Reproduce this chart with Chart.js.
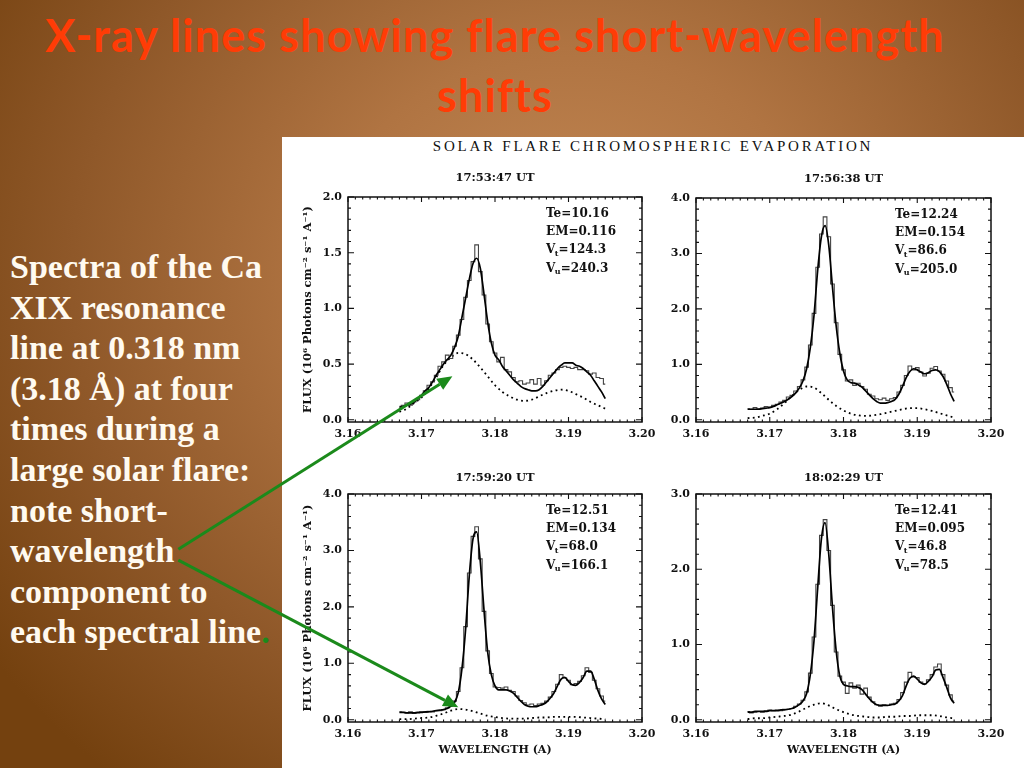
<!DOCTYPE html>
<html><head><meta charset="utf-8">
<script src="https://cdn.jsdelivr.net/npm/chart.js@4.4.1/dist/chart.umd.min.js"></script>
<style>
html,body{margin:0;padding:0;width:1024px;height:768px;overflow:hidden;}
body{position:relative;background:radial-gradient(ellipse 70% 85% at 56% 36%, #c58a56 0%, #b07442 35%, #8f5829 70%, #74410f 100%);}
#title{position:absolute;left:0;top:5px;width:990px;text-align:center;font-family:Lato,sans-serif;font-weight:bold;font-size:45px;letter-spacing:1.1px;line-height:60px;color:#ff3c06;}
#panel{position:absolute;left:282px;top:137px;width:742px;height:631px;background:#fff;}
#heading{position:absolute;left:282px;width:742px;top:138px;text-align:center;font-family:'Liberation Serif',serif;font-size:15px;letter-spacing:2.75px;color:#111;}
#side{position:absolute;left:10px;top:247px;font-family:'Liberation Serif',serif;font-weight:bold;font-size:34px;line-height:40.6px;color:#fffaf0;white-space:nowrap;}
#side .g{color:#1b8a1b;}
canvas.c{position:absolute;}
#overlay{position:absolute;left:0;top:0;pointer-events:none;z-index:10;}
</style>
</head>
<body>
<div id="title">X-ray lines showing flare short-wavelength<br>shifts</div>
<div id="side">Spectra of the Ca<br>XIX resonance<br>line at 0.318 nm<br>(3.18 Å) at four<br>times during a<br>large solar flare:<br>note short-<br><span id="wl">wavelength</span><br>component to<br>each spectral line<span class="g">.</span></div>
<div id="panel"></div>
<div id="heading">SOLAR FLARE CHROMOSPHERIC EVAPORATION</div>
<canvas id="overlay" width="1024" height="768"></canvas>
<script>
// ---------- data ----------
const wavelengthFine = [3.1670,3.1675,3.1680,3.1685,3.1690,3.1695,3.1700,3.1705,3.1710,3.1715,
3.1720,3.1725,3.1730,3.1735,3.1740,3.1745,3.1750,3.1755,3.1760,3.1765,
3.1770,3.1775,3.1780,3.1785,3.1790,3.1795,3.1800,3.1805,3.1810,3.1815,
3.1820,3.1825,3.1830,3.1835,3.1840,3.1845,3.1850,3.1855,3.1860,3.1865,
3.1870,3.1875,3.1880,3.1885,3.1890,3.1895,3.1900,3.1905,3.1910,3.1915,
3.1920,3.1925,3.1930,3.1935,3.1940,3.1945,3.1950];
const wavelengthCoarse = [3.167,3.168,3.169,3.170,3.171,3.172,3.173,3.174,3.175,3.176,
3.177,3.178,3.179,3.180,3.181,3.182,3.183,3.184,3.185,3.186,
3.187,3.188,3.189,3.190,3.191,3.192,3.193,3.194,3.195];

const xTickMin = 3.16, xTickMax = 3.20, xTickStep = 0.01;

const panelTimes = ['17:53:47 UT','17:56:38 UT','17:59:20 UT','18:02:29 UT'];
const panelTe = ['10.16','12.24','12.51','12.41'];
const panelEM = ['0.116','0.154','0.134','0.095'];
const panelVt = ['124.3','86.6','68.0','46.8'];
const panelVu = ['240.3','205.0','166.1','78.5'];
const yMaxima = [2.0, 4.0, 4.0, 3.0];
const yMinima = [-0.02, -0.04, -0.04, -0.03];
const yStep = [0.5, 1.0, 1.0, 1.0];

const observed1 = [0.12,0.13,0.15,0.13,0.16,0.18,0.22,0.26,0.31,0.34,
0.40,0.48,0.52,0.58,0.55,0.66,0.76,0.90,1.10,1.25,
1.42,1.57,1.33,1.12,0.86,0.70,0.60,0.52,0.56,0.45,
0.43,0.38,0.34,0.35,0.32,0.33,0.36,0.32,0.37,0.31,
0.35,0.40,0.42,0.45,0.47,0.48,0.47,0.46,0.47,0.45,
0.45,0.44,0.41,0.42,0.38,0.37,0.32];
const fit1 = [0.11,0.12,0.13,0.14,0.16,0.19,0.22,0.26,0.29,0.34,
0.40,0.45,0.50,0.54,0.58,0.65,0.75,0.92,1.09,1.26,
1.40,1.45,1.36,1.13,0.88,0.69,0.58,0.54,0.48,0.44,
0.40,0.36,0.33,0.30,0.28,0.27,0.26,0.26,0.27,0.30,
0.34,0.38,0.42,0.46,0.49,0.51,0.51,0.51,0.49,0.48,
0.46,0.43,0.40,0.35,0.30,0.25,0.19];
const blue1 = [0.07,0.10,0.15,0.20,0.28,0.38,0.49,0.56,0.60,0.59,
0.54,0.47,0.39,0.31,0.25,0.21,0.18,0.17,0.18,0.21,
0.24,0.26,0.27,0.26,0.23,0.20,0.16,0.13,0.10];

const observed2 = [0.20,0.19,0.22,0.20,0.21,0.24,0.23,0.26,0.28,0.32,
0.35,0.41,0.44,0.52,0.60,0.72,0.95,1.35,1.92,2.75,
3.35,3.66,3.30,2.45,1.75,1.18,0.90,0.70,0.72,0.62,
0.66,0.60,0.55,0.46,0.43,0.38,0.36,0.39,0.35,0.38,
0.40,0.50,0.62,0.80,0.97,0.90,0.94,0.86,0.79,0.84,
0.93,0.96,0.88,0.82,0.70,0.58,0.50];
const fit2 = [0.19,0.19,0.19,0.19,0.20,0.21,0.22,0.24,0.27,0.30,
0.33,0.37,0.42,0.48,0.57,0.70,0.92,1.30,1.88,2.70,
3.30,3.50,3.15,2.40,1.70,1.20,0.88,0.72,0.67,0.66,
0.63,0.59,0.52,0.45,0.38,0.33,0.30,0.30,0.31,0.33,
0.37,0.46,0.60,0.76,0.87,0.92,0.90,0.86,0.83,0.85,
0.89,0.90,0.87,0.78,0.64,0.47,0.33];
const blue2 = [0.03,0.04,0.07,0.11,0.19,0.30,0.43,0.54,0.60,0.58,
0.48,0.36,0.25,0.17,0.11,0.08,0.07,0.08,0.10,0.13,
0.16,0.19,0.21,0.21,0.19,0.16,0.12,0.08,0.04];

const observed3 = [0.14,0.13,0.12,0.14,0.11,0.12,0.14,0.13,0.15,0.14,
0.16,0.16,0.18,0.21,0.24,0.33,0.50,0.92,1.65,2.60,
3.25,3.42,2.85,1.92,1.22,0.82,0.58,0.57,0.56,0.58,
0.52,0.50,0.42,0.34,0.30,0.26,0.28,0.25,0.28,0.29,
0.33,0.40,0.50,0.63,0.80,0.74,0.70,0.62,0.64,0.68,
0.78,0.92,0.84,0.70,0.55,0.42,0.33];
const fit3 = [0.13,0.13,0.12,0.12,0.12,0.13,0.13,0.14,0.14,0.15,
0.16,0.17,0.18,0.20,0.24,0.31,0.48,0.90,1.60,2.55,
3.20,3.33,2.80,1.95,1.20,0.80,0.60,0.53,0.53,0.53,
0.51,0.47,0.40,0.33,0.27,0.24,0.23,0.23,0.25,0.27,
0.31,0.38,0.47,0.60,0.72,0.75,0.68,0.62,0.61,0.66,
0.75,0.86,0.86,0.72,0.52,0.37,0.27];
const blue3 = [0.01,0.01,0.02,0.03,0.04,0.07,0.11,0.16,0.19,0.18,
0.15,0.11,0.07,0.05,0.03,0.02,0.02,0.02,0.03,0.04,
0.04,0.05,0.05,0.05,0.05,0.04,0.03,0.02,0.01];

const observed4 = [0.11,0.09,0.10,0.11,0.10,0.12,0.13,0.12,0.13,0.12,
0.14,0.14,0.15,0.18,0.21,0.26,0.37,0.62,1.10,1.80,
2.45,2.66,2.25,1.52,0.90,0.58,0.50,0.35,0.49,0.42,
0.46,0.34,0.42,0.30,0.24,0.20,0.18,0.20,0.19,0.21,
0.22,0.27,0.36,0.50,0.63,0.57,0.56,0.50,0.48,0.53,
0.60,0.70,0.74,0.60,0.46,0.33,0.25];
const fit4 = [0.10,0.10,0.11,0.11,0.11,0.11,0.12,0.12,0.12,0.13,
0.13,0.14,0.15,0.17,0.20,0.25,0.35,0.60,1.05,1.75,
2.40,2.62,2.20,1.50,0.92,0.58,0.47,0.45,0.44,0.44,
0.43,0.40,0.34,0.28,0.23,0.20,0.19,0.19,0.19,0.20,
0.21,0.25,0.32,0.45,0.55,0.58,0.54,0.49,0.47,0.51,
0.57,0.66,0.67,0.56,0.43,0.29,0.22];
const blue4 = [0.01,0.02,0.02,0.03,0.04,0.05,0.07,0.11,0.16,0.20,
0.22,0.19,0.14,0.10,0.07,0.05,0.04,0.03,0.03,0.04,
0.04,0.05,0.05,0.06,0.06,0.06,0.05,0.03,0.02];

// arrow targets (data coordinates inside panel 1 and panel 3)
const arrowTargets = [{panel:0, x:3.1742, y:0.39}, {panel:2, x:3.1750, y:0.22}];

// ---------- layout ----------
const panelAreas = [
  {left:348, top:197, right:642, bottom:422},
  {left:696, top:198, right:991, bottom:422},
  {left:348, top:494, right:642, bottom:722},
  {left:696, top:494, right:991, bottom:722}
];
const timeOffset = [18.5, 18.5, 16, 16];
const FONT = '"DejaVu Serif", serif';
const INK = '#111';

const framePlugin = {
  id: 'frame',
  afterDatasetsDraw(chart, args, opts) {
    const {ctx, chartArea: {left, right, top, bottom}, scales: {x, y}} = chart;
    ctx.save();
    ctx.strokeStyle = INK;
    ctx.lineWidth = 1.5;
    ctx.strokeRect(left, top, right - left, bottom - top);
    ctx.lineWidth = 1.1;
    ctx.beginPath();
    const xt = x.ticks.map(t => t.value);
    for (let j = 0; j < xt.length; j++) {
      const px = x.getPixelForValue(xt[j]);
      ctx.moveTo(px, bottom); ctx.lineTo(px, bottom - 5);
      ctx.moveTo(px, top); ctx.lineTo(px, top + 5);
      if (j < xt.length - 1) {
        const st = (xt[j + 1] - xt[j]) / opts.xMinor;
        for (let m = 1; m < opts.xMinor; m++) {
          const q = x.getPixelForValue(xt[j] + m * st);
          ctx.moveTo(q, bottom); ctx.lineTo(q, bottom - 2.5);
          ctx.moveTo(q, top); ctx.lineTo(q, top + 2.5);
        }
      }
    }
    const yt = y.ticks.map(t => t.value);
    for (let j = 0; j < yt.length; j++) {
      const py = y.getPixelForValue(yt[j]);
      ctx.moveTo(left, py); ctx.lineTo(left + 6, py);
      ctx.moveTo(right, py); ctx.lineTo(right - 6, py);
      if (j < yt.length - 1) {
        const st = (yt[j + 1] - yt[j]) / opts.yMinor;
        for (let m = 1; m < opts.yMinor; m++) {
          const q = y.getPixelForValue(yt[j] + m * st);
          ctx.moveTo(left, q); ctx.lineTo(left + 3, q);
          ctx.moveTo(right, q); ctx.lineTo(right - 3, q);
        }
      }
    }
    ctx.stroke();
    ctx.restore();
  }
};

const annotPlugin = {
  id: 'annot',
  afterDraw(chart, args, opts) {
    const {ctx, chartArea: {left, right, top}} = chart;
    ctx.save();
    ctx.fillStyle = INK;
    ctx.textBaseline = 'middle';
    ctx.textAlign = 'center';
    ctx.font = 'bold 11.5px ' + FONT;
    ctx.fillText(opts.time, (left + right) / 2, top - opts.timeOffset);
    ctx.textAlign = 'left';
    const x0 = right - 96;
    const big = 'bold 12px ' + FONT, small = 'bold 8px ' + FONT;
    const y0 = top + 16.5, dy = 18.3;
    ctx.font = big;
    ctx.fillText('Te=' + opts.te, x0, y0);
    ctx.fillText('EM=' + opts.em, x0, y0 + dy);
    const sub = (sym, s, val, yy) => {
      ctx.font = big;
      ctx.fillText(sym, x0, yy);
      const w1 = ctx.measureText(sym).width;
      ctx.font = small;
      ctx.fillText(s, x0 + w1 - 0.5, yy + 3.5);
      const w2 = ctx.measureText(s).width;
      ctx.font = big;
      ctx.fillText('=' + val, x0 + w1 + w2 - 0.5, yy);
    };
    sub('V', 't', opts.vt, y0 + 2 * dy);
    sub('V', 'u', opts.vu, y0 + 3 * dy);
    ctx.restore();
  }
};

const charts = [];
function makePanel(i, obs, fit, blue, showYTitle, showXTitle) {
  const a = panelAreas[i];
  const wy = showYTitle ? 66 : 40;
  const hx = showXTitle ? 40 : 30;
  const padTop = 45, padRight = 22;
  const cx = a.left - wy, cy = a.top - padTop;
  const cw = a.right - cx + padRight, ch = a.bottom - cy + hx;
  const cv = document.createElement('canvas');
  cv.className = 'c';
  cv.width = cw; cv.height = ch;
  cv.style.left = cx + 'px'; cv.style.top = cy + 'px';
  cv.style.width = cw + 'px'; cv.style.height = ch + 'px';
  document.body.insertBefore(cv, document.getElementById('overlay'));
  const tickFont = {family: FONT, weight: 'bold', size: 11};
  const chart = new Chart(cv, {
    type: 'line',
    data: {
      datasets: [
        {data: wavelengthFine.map((x, k) => ({x, y: fit[k]})), borderColor: '#000', borderWidth: 1.7,
         cubicInterpolationMode: 'monotone', pointRadius: 0, fill: false, order: 0},
        {data: wavelengthFine.map((x, k) => ({x, y: obs[k]})), borderColor: '#444', borderWidth: 1.1,
         stepped: 'middle', pointRadius: 0, fill: false, order: 1},
        {data: wavelengthCoarse.map((x, k) => ({x, y: blue[k]})), borderColor: '#000', borderWidth: 1.8,
         borderDash: [1.8, 3.4], cubicInterpolationMode: 'monotone', pointRadius: 0, fill: false, order: 2}
      ]
    },
    options: {
      responsive: false,
      animation: false,
      layout: {padding: {left: 0, top: padTop, right: padRight, bottom: 0}},
      scales: {
        x: {
          type: 'linear', min: xTickMin, max: xTickMax,
          afterFit: s => { s.height = hx; },
          ticks: {stepSize: xTickStep, autoSkip: false, maxRotation: 0, padding: 6, color: INK,
                  font: tickFont, callback: v => Number(v).toFixed(2)},
          grid: {display: false, drawTicks: false}, border: {display: false},
          title: {display: showXTitle, text: 'WAVELENGTH (A)', color: INK,
                  font: {family: FONT, weight: 'bold', size: 11}, padding: {top: 0, bottom: 5}}
        },
        y: {
          type: 'linear', min: yMinima[i], max: yMaxima[i],
          afterFit: s => { s.width = wy; },
          ticks: {stepSize: yStep[i], includeBounds: false, padding: 6, color: INK,
                  font: tickFont, callback: v => Number(v).toFixed(1)},
          grid: {display: false, drawTicks: false}, border: {display: false},
          title: {display: showYTitle, text: 'FLUX (10\u2076 Photons cm\u207B\u00B2 s\u207B\u00B9 A\u207B\u00B9)', color: INK,
                  font: {family: FONT, weight: 'bold', size: 11.5}, padding: {top: 19, bottom: 0}}
        }
      },
      plugins: {
        legend: {display: false},
        tooltip: {enabled: false},
        frame: {xMinor: 10, yMinor: 5},
        annot: {time: panelTimes[i], timeOffset: timeOffset[i], te: panelTe[i], em: panelEM[i],
                vt: panelVt[i], vu: panelVu[i]}
      }
    },
    plugins: [framePlugin, annotPlugin]
  });
  chart.$origin = {x: cx, y: cy};
  charts[i] = chart;
}

makePanel(0, observed1, fit1, blue1, true, false);
makePanel(1, observed2, fit2, blue2, false, false);
makePanel(2, observed3, fit3, blue3, true, true);
makePanel(3, observed4, fit4, blue4, false, true);

function drawArrows() {
  const ov = document.getElementById('overlay');
  const ctx = ov.getContext('2d');
  ctx.clearRect(0, 0, 1024, 768);
  const r = document.getElementById('wl').getBoundingClientRect();
  const yc = (r.top + r.bottom) / 2;
  const starts = [{x: r.right + 4, y: yc - 1.5}, {x: r.right + 4, y: yc + 9.5}];
  ctx.strokeStyle = '#1b8a1b';
  ctx.fillStyle = '#1b8a1b';
  ctx.lineWidth = 3;
  arrowTargets.forEach((t, k) => {
    const c = charts[t.panel];
    const tx = c.$origin.x + c.scales.x.getPixelForValue(t.x);
    const ty = c.$origin.y + c.scales.y.getPixelForValue(t.y);
    const s = starts[k];
    const ang = Math.atan2(ty - s.y, tx - s.x);
    const hl = 15, hw = 6.5;
    const bx = tx - hl * Math.cos(ang), by = ty - hl * Math.sin(ang);
    ctx.beginPath();
    ctx.moveTo(s.x, s.y); ctx.lineTo(bx, by);
    ctx.stroke();
    ctx.beginPath();
    ctx.moveTo(tx, ty);
    ctx.lineTo(bx + hw * Math.sin(ang), by - hw * Math.cos(ang));
    ctx.lineTo(bx - hw * Math.sin(ang), by + hw * Math.cos(ang));
    ctx.closePath();
    ctx.fill();
  });
}
drawArrows();
</script>
</body></html>
